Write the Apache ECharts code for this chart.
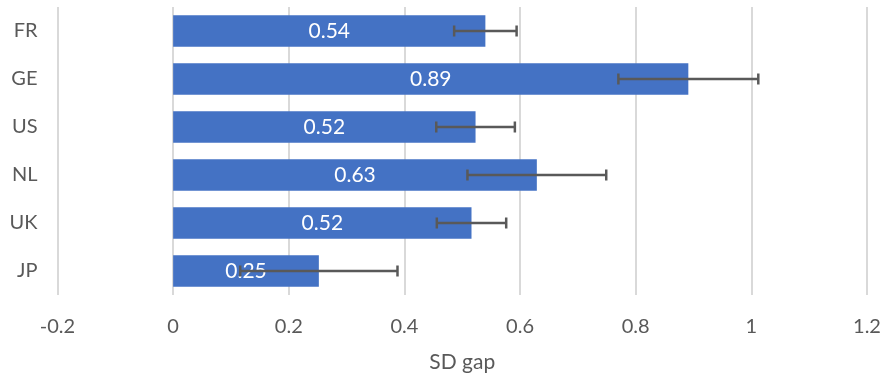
<!DOCTYPE html>
<html>
<head>
<meta charset="utf-8">
<script src="https://cdn.jsdelivr.net/npm/echarts@6/dist/echarts.min.js"></script>
<style>
html,body{margin:0;padding:0;background:#fff;}
#chart{width:886px;height:378px;}
</style>
</head>
<body>
<div id="chart"></div>
<script>
const categories = ['FR', 'GE', 'US', 'NL', 'UK', 'JP'];
const values = [0.540, 0.891, 0.523, 0.629, 0.516, 0.252];
const errors = [0.054, 0.121, 0.068, 0.120, 0.060, 0.136];
const axisName = 'SD gap';

const errData = values.map((v, i) => [v - errors[i], v + errors[i], i]);

const chart = echarts.init(document.getElementById('chart'), null, {renderer: 'canvas'});
const FONT = 'Lato';
chart.setOption({
  animation: false,
  grid: {left: 57.5, right: 19, top: 7, bottom: 83, containLabel: false},
  xAxis: {
    type: 'value', min: -0.2, max: 1.2, interval: 0.2,
    axisLine: {show: false}, axisTick: {show: false},
    splitLine: {show: true, lineStyle: {color: '#d9d9d9', width: 2}},
    axisLabel: {color: '#595959', fontSize: 20, fontFamily: FONT, margin: 22,
      formatter: v => String(Math.round(v * 10) / 10)},
    name: axisName, nameLocation: 'middle', nameGap: 57,
    nameTextStyle: {color: '#595959', fontSize: 21, fontFamily: FONT}
  },
  yAxis: {
    type: 'category', data: categories, inverse: true,
    axisLine: {show: false}, axisTick: {show: false},
    axisLabel: {color: '#595959', fontSize: 20, fontFamily: FONT, margin: 20}
  },
  series: [
    {
      type: 'bar', data: values, barCategoryGap: '34%',
      itemStyle: {color: '#4472C4'},
      label: {show: true, position: 'inside', color: '#ffffff', fontSize: 21, fontFamily: FONT,
        formatter: p => p.value.toFixed(2)}
    },
    {
      type: 'custom', data: errData, z: 10,
      encode: {x: [0, 1], y: 2},
      renderItem: function (params, api) {
        const lo = api.coord([api.value(0), api.value(2)]);
        const hi = api.coord([api.value(1), api.value(2)]);
        const y = lo[1];
        const h = 5.5;
        const style = {stroke: '#595959', lineWidth: 2.5};
        return {
          type: 'group',
          children: [
            {type: 'line', shape: {x1: lo[0], y1: y, x2: hi[0], y2: y}, style: style},
            {type: 'line', shape: {x1: lo[0], y1: y - h, x2: lo[0], y2: y + h}, style: style},
            {type: 'line', shape: {x1: hi[0], y1: y - h, x2: hi[0], y2: y + h}, style: style}
          ]
        };
      }
    }
  ]
});
</script>
</body>
</html>
